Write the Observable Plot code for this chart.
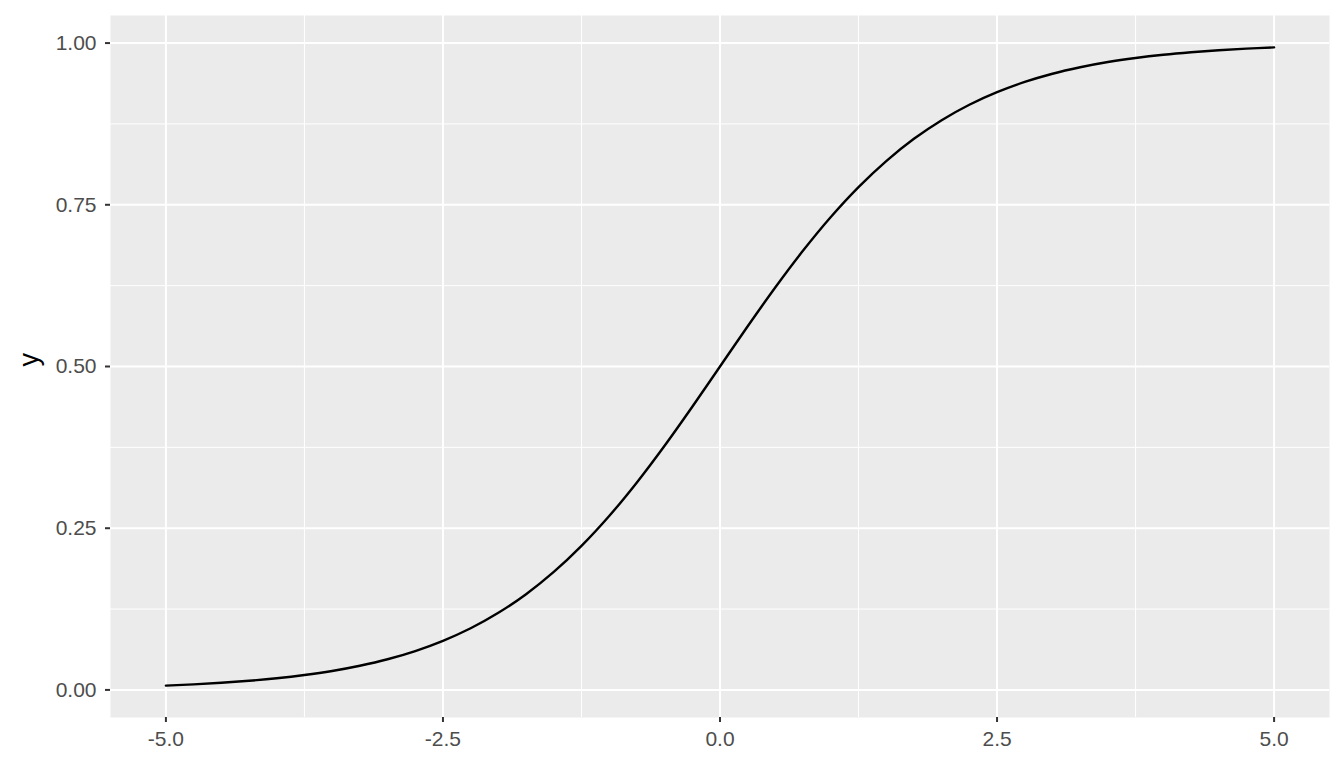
<!DOCTYPE html>
<html>
<head>
<meta charset="utf-8">
<script src="https://cdn.jsdelivr.net/npm/d3@7"></script>
<script src="https://cdn.jsdelivr.net/npm/@observablehq/plot@0.6"></script>
<style>
  html, body { margin: 0; padding: 0; background: #fff; }
  svg { display: block; }
</style>
</head>
<body>
<div id="chart"></div>
<script>
const xValues = [-5, -4.75, -4.5, -4.25, -4, -3.75, -3.5, -3.25, -3, -2.75, -2.5, -2.25, -2, -1.75, -1.5, -1.25, -1, -0.75, -0.5, -0.25,
  0, 0.25, 0.5, 0.75, 1, 1.25, 1.5, 1.75, 2, 2.25, 2.5, 2.75, 3, 3.25, 3.5, 3.75, 4, 4.25, 4.5, 4.75, 5];
const yValues = [0.0067, 0.0086, 0.0110, 0.0141, 0.0180, 0.0230, 0.0293, 0.0374, 0.0474, 0.0601, 0.0759, 0.0953, 0.1192, 0.1480, 0.1824, 0.2227, 0.2689, 0.3208, 0.3775, 0.4378,
  0.5, 0.5622, 0.6225, 0.6792, 0.7311, 0.7773, 0.8176, 0.8520, 0.8808, 0.9047, 0.9241, 0.9399, 0.9526, 0.9626, 0.9707, 0.9770, 0.9820, 0.9859, 0.9890, 0.9914, 0.9933];
const xMajor = [-5, -2.5, 0, 2.5, 5];
const xMinor = [-3.75, -1.25, 1.25, 3.75];
const yMajor = [0, 0.25, 0.5, 0.75, 1];
const yMinor = [0.125, 0.375, 0.625, 0.875];

const data = xValues.map((x, i) => ({x, y: yValues[i]}));
const xPad = (5 - -5) * 0.05;
const yMin = d3.min(yValues), yMax = d3.max(yValues);
const yPad = (yMax - yMin) * 0.05;
const hyphen = f => d => f(d).replace("\u2212", "-");

const chart = Plot.plot({
  width: 1344,
  height: 768,
  marginLeft: 110,
  marginRight: 15,
  marginTop: 15,
  marginBottom: 51,
  style: {fontFamily: "Liberation Sans, Arial, sans-serif", fontSize: "21px", background: "#fff"},
  x: {domain: [-5 - xPad, 5 + xPad], label: null},
  y: {domain: [yMin - yPad, yMax + yPad], label: null},
  marks: [
    Plot.frame({fill: "#EBEBEB", stroke: null}),
    Plot.ruleX(xMinor, {stroke: "#fff", strokeWidth: 1}),
    Plot.ruleY(yMinor, {stroke: "#fff", strokeWidth: 1}),
    Plot.ruleX(xMajor, {stroke: "#fff", strokeWidth: 2}),
    Plot.ruleY(yMajor, {stroke: "#fff", strokeWidth: 2}),
    Plot.axisX({ticks: xMajor, tickFormat: hyphen(d3.format(".1f")), tickSize: 5, tickPadding: 9, stroke: "#333", strokeWidth: 2, color: "#4D4D4D", label: null}),
    Plot.axisY({ticks: yMajor, tickFormat: hyphen(d3.format(".2f")), tickSize: 5, tickPadding: 9, stroke: "#333", strokeWidth: 2, color: "#4D4D4D", label: null}),
    Plot.line(data, {x: "x", y: "y", stroke: "#000", strokeWidth: 2.4, curve: "catmull-rom"}),
    Plot.text(["y"], {frameAnchor: "left", dx: -81, rotate: -90, fill: "#000", fontSize: 27})
  ]
});
document.getElementById("chart").appendChild(chart);
</script>
</body>
</html>
